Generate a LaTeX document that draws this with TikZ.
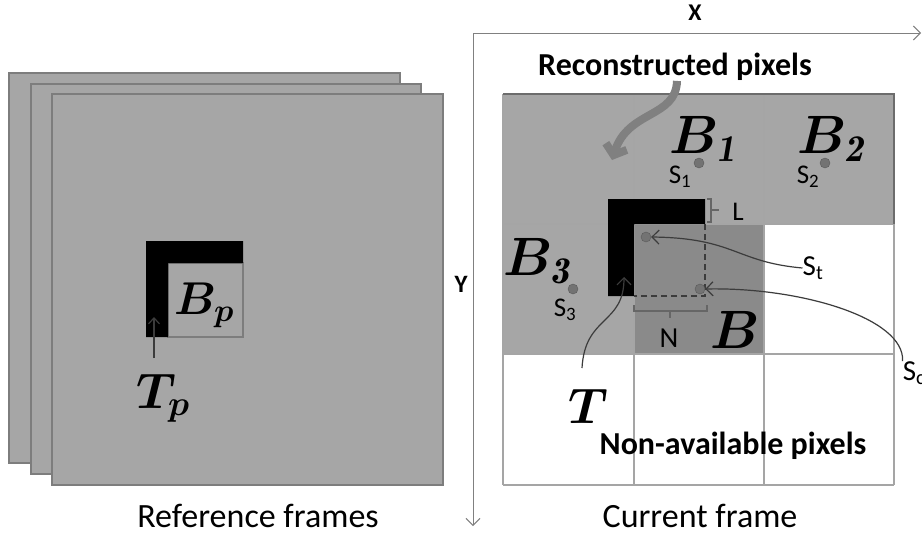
\RequirePackage{fix-cm}
\documentclass[tikz,border=0pt]{standalone}
\usepackage{fontspec}
\setsansfont{Carlito}
\usepackage{amsmath,bm}
\definecolor{framegray}{RGB}{166,166,166}
\definecolor{blockgray}{RGB}{138,138,138}
\definecolor{edgegray}{RGB}{125,125,125}
\definecolor{linegray}{RGB}{165,165,165}
\definecolor{inkgray}{RGB}{60,60,60}
\tikzset{every picture/.style={/utils/exec={\sffamily}}}
\usetikzlibrary{positioning,arrows.meta}

\tikzset{
  frame/.style={fill=framegray, draw=edgegray, line width=1.5pt},
  txt/.style={font=\fontsize{34}{38}\selectfont, inner sep=0pt, text depth=0pt},
  boldtxt/.style={font=\fontsize{32}{36}\selectfont\bfseries, inner sep=0pt},
  small/.style={font=\fontsize{27}{30}\selectfont, inner sep=0pt},
  blk/.style={font=\fontsize{54}{60}\selectfont\boldmath, inner sep=0pt},
  dot/.style={circle, fill=gray!90!black, draw=gray!70!black, minimum size=10pt, inner sep=0pt},
  pointer/.style={draw=inkgray, line width=1.2pt, -{Straight Barb[length=7pt,width=14pt]}},
  brace/.style={draw=gray!80!black, line width=2pt}
}

\begin{document}
\begin{tikzpicture}[x=1pt, y=-1pt]
  \useasboundingbox[fill=white] (0,0) rectangle (922,536);

  % reference frames, stacked
  \draw [frame] (9,73) rectangle (400,463);
  \draw [frame] (31,84) rectangle (421,474);
  \draw [frame] (52,94) rectangle (443,485);

  \draw [draw=edgegray, line width=1.5pt] (168,263) rectangle (243,337);
  \fill (146,241) -- (243,241) -- (243,263) -- (168,263) -- (168,337) -- (146,337) -- cycle;
  \node [blk, font=\fontsize{46}{52}\selectfont\boldmath] (bp) at (204,305) {$B_p$};
  \coordinate (tpend) at (154,317);
  \node [blk, font=\fontsize{50}{56}\selectfont\boldmath] (tp) at (163,398) {$T_p$};
  \draw [pointer, draw=inkgray, -{Straight Barb[length=6pt,width=11pt]}] (154,358) -- (tpend);

  \node [txt, anchor=base] (reflabel) at (258,527) {Reference frames};

  % axes
  \coordinate (o) at (473,33);
  \draw [draw=gray, line width=1pt, -{Straight Barb[length=7pt,width=14pt]}] (o) -- (921,33);
  \draw [draw=gray, line width=1pt, -{Straight Barb[length=7pt,width=14pt]}] (o) -- (473,526);
  \node [small, font=\fontsize{24}{28}\selectfont\bfseries] (xlabel) at (695,13) {X};
  \node [small, font=\fontsize{25}{28}\selectfont\bfseries] (ylabel) at (461,284) {Y};

  % current frame: 3x3 blocks
  \fill [framegray] (503,94) rectangle (894,224);
  \fill [framegray] (503,224) rectangle (634,354);
  \fill [blockgray] (634,224) rectangle (764,354);
  \foreach \x in {503,634,764,894}
    \draw [draw=linegray, line width=2pt] (\x,94) -- (\x,485);
  \foreach \y in {94,224,354,485}
    \draw [draw=linegray, line width=2pt] (503,\y) -- (894,\y);
  \draw [draw=gray!85!black, line width=1.5pt] (503,94) -- (894,94) -- (894,224);

  % template T and block B
  \fill (608,199) -- (705,199) -- (705,224) -- (634,224) -- (634,296) -- (608,296) -- cycle;
  \draw [dash pattern=on 6pt off 4pt, line width=1.3pt, inkgray] (705,224) -- (705,296) -- (634,296);

  % L and N
  \draw [brace] (707,199) -- (711,199) -- (711,222) -- (707,222) (711,210) -- (719,210);
  \node [small] (l) at (738,212) {L};
  \draw [brace] (634,305) -- (634,311) -- (707,311) -- (707,305) (670,311) -- (670,318);
  \node [small, font=\fontsize{29}{32}\selectfont] (n) at (669,338) {N};

  % block names
  \node [blk] (b1) at (703,139) {$B_{\mathit{1}}$};
  \node [blk] (b2) at (831,139) {$B_{\mathit{2}}$};
  \node [blk] (b3) at (537,261) {$B_{\mathit{3}}$};
  \node [blk] (b) at (735,330) {$B$};
  \node [blk, font=\fontsize{50}{56}\selectfont\boldmath] (t) at (588,406) {$T$};

  % sample points
  \node [dot] (s1) at (699,163) {};
  \node [dot] (s2) at (825,163) {};
  \node [dot] (s3) at (573,289) {};
  \node [dot] (st) at (646,237) {};
  \node [dot] (sc) at (700,289) {};
  \node [small] (s1lbl) at (680,177) {S\textsubscript{1}};
  \node [small] (s2lbl) at (808,177) {S\textsubscript{2}};
  \node [small] (s3lbl) at (565,310) {S\textsubscript{3}};
  \node [small, font=\fontsize{29}{32}\selectfont] (stlbl) at (813,268) {S\textsubscript{t}};
  \node [small, font=\fontsize{29}{32}\selectfont] (sclbl) at (914,373) {S\textsubscript{c}};

  \draw [pointer] (stlbl.west) .. controls (735,262) and (735,238) .. (st.east);
  \draw [pointer] (sclbl.north west) .. controls (905,318) and (800,287) .. (sc.east);
  \coordinate (tend) at (624,277);
  \draw [pointer] (582,368) .. controls (585,315) and (624,325) .. (tend);

  % reconstructed / non-available
  \node [boldtxt] (reclbl) at (675,67) {Reconstructed pixels};
  \draw [draw=gray, line width=8pt, -{Straight Barb[length=9pt,width=22pt]}]
    (reclbl.south) ++(2,0) .. controls (676,118) and (628,110) .. (612,160);
  \node [boldtxt] (nalbl) at (733,446) {Non-available pixels};

  \node [txt, anchor=base] (curlbl) at (700,527) {Current frame};
\end{tikzpicture}
\end{document}
